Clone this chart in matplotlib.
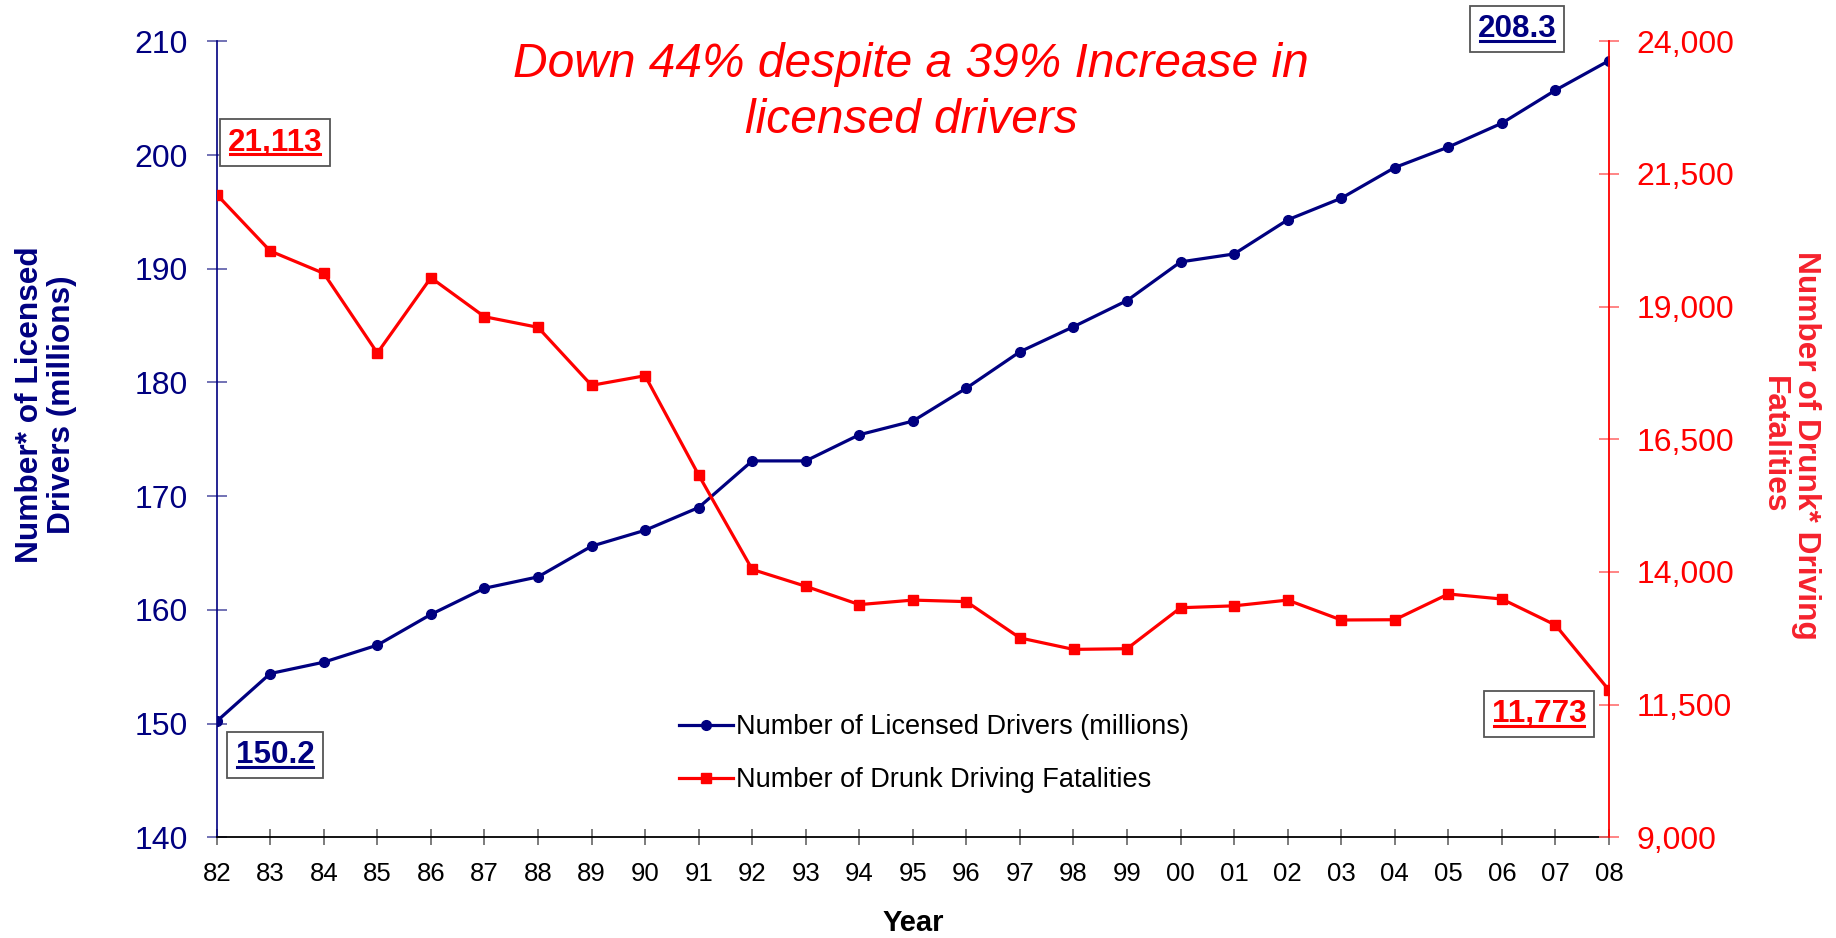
import matplotlib
matplotlib.use('Agg')
import matplotlib.pyplot as plt
from matplotlib.ticker import FuncFormatter
from matplotlib.lines import Line2D

plt.rcParams['font.family'] = ['Liberation Sans', 'DejaVu Sans']

years = ['82', '83', '84', '85', '86', '87', '88', '89', '90', '91', '92', '93', '94',
         '95', '96', '97', '98', '99', '00', '01', '02', '03', '04', '05', '06', '07', '08']
drivers = [150.2, 154.4, 155.4, 156.9, 159.6, 161.9, 162.9, 165.6, 167.0, 169.0, 173.1,
           173.1, 175.4, 176.6, 179.5, 182.7, 184.9, 187.2, 190.6, 191.3, 194.3, 196.2,
           198.9, 200.7, 202.8, 205.7, 208.3]
fatalities = [21113, 20048, 19627, 18126, 19545, 18810, 18610, 17517, 17698, 15827, 14048,
              13730, 13385, 13470, 13441, 12757, 12541, 12554, 13326, 13362, 13470, 13095,
              13100, 13585, 13490, 13000, 11773]
left_ticks = [140, 150, 160, 170, 180, 190, 200, 210]
right_ticks = [9000, 11500, 14000, 16500, 19000, 21500, 24000]

NAVY = '#000080'
RED = '#FF0000'

W, H = 1836, 938
fig = plt.figure(figsize=(W / 100, H / 100), dpi=100)
ax = fig.add_axes([216.7 / W, 1 - 837.3 / H, (1609 - 216.7) / W, (837.3 - 41.3) / H])
ax2 = ax.twinx()

x = list(range(len(years)))
l1, = ax.plot(x, drivers, color=NAVY, lw=2.3, marker='o', ms=7,
              label='Number of Licensed Drivers (millions)')
l2, = ax2.plot(x, fatalities, color=RED, lw=2.3, marker='s', ms=7,
               label='Number of Drunk Driving Fatalities')

ax.set_xlim(0, len(years) - 1)
ax.set_ylim(left_ticks[0], left_ticks[-1])
ax2.set_ylim(right_ticks[0], right_ticks[-1])
ax.set_xticks(x)
ax.set_xticklabels(years)
ax.set_yticks(left_ticks)
ax2.set_yticks(right_ticks)
ax2.yaxis.set_major_formatter(FuncFormatter(lambda v, p: f'{int(v):,}'))

for a in (ax, ax2):
    a.spines['top'].set_visible(False)
ax.spines['right'].set_visible(False)
ax2.spines['left'].set_visible(False)
ax2.spines['bottom'].set_visible(False)
ax.spines['left'].set_color(NAVY)
ax.spines['left'].set_linewidth(1.2)
ax.spines['bottom'].set_color('black')
ax.spines['bottom'].set_linewidth(1.3)
ax2.spines['right'].set_color(RED)
ax2.spines['right'].set_linewidth(1.3)

ax.tick_params(axis='y', direction='inout', length=14, width=1.2, color='#5a5aa8',
               labelcolor=NAVY, labelsize=23, pad=14)
ax.tick_params(axis='x', direction='inout', length=11, width=1.2, color='#666666',
               labelcolor='black', labelsize=18.5, pad=12)
ax2.tick_params(axis='y', direction='inout', length=14, width=1.2, color='#FF7070',
                labelcolor=RED, labelsize=23, pad=13)

fig.text(913 / W, 1 - 923 / H, 'Year', ha='center', va='center', fontsize=21,
         fontweight='bold', color='black')

fig.text(46 / W, 1 - 405 / H, 'Number* of Licensed\nDrivers (millions)', rotation=90,
         ha='center', va='center', multialignment='center', fontsize=22.8,
         fontweight='bold', color=NAVY, linespacing=1.1)
fig.text(1790 / W, 1 - 445 / H, 'Number of Drunk* Driving\nFatalities', rotation=-90,
         ha='center', va='center', multialignment='center', fontsize=22.8,
         fontweight='bold', color='#F5222D', linespacing=1.1)

fig.text(911 / W, 1 - 77 / H, 'Down 44% despite a 39% Increase in', ha='center',
         va='baseline', fontsize=34.5, style='italic', color=RED)
fig.text(911 / W, 1 - 133 / H, 'licensed drivers', ha='center',
         va='baseline', fontsize=34.5, style='italic', color=RED)

fig.legend(handles=[l1, l2], loc='upper left', bbox_to_anchor=(679 / W, 1 - 714 / H),
           frameon=False, fontsize=19.5, handlelength=2.0, handletextpad=0.1,
           borderpad=0, borderaxespad=0, labelspacing=1.0)

boxes = []
def boxed(xc, yc, text, color):
    t = fig.text(xc / W, 1 - yc / H, text, ha='center', va='center', fontsize=22.6,
                 fontweight='bold', color=color, zorder=5,
                 bbox=dict(boxstyle='square,pad=0.26', fc='white', ec='#555555', lw=1.3))
    boxes.append((t, color))

boxed(275, 142.5, '21,113', RED)
boxed(1517, 28.7, '208.3', NAVY)
boxed(275, 755, '150.2', NAVY)
boxed(1539, 714, '11,773', RED)

fig.canvas.draw()
renderer = fig.canvas.get_renderer()
for t, color in boxes:
    bb = t.get_window_extent(renderer)
    yy = bb.y0 + 3.0
    fig.add_artist(Line2D([bb.x0 / W + 0.001, bb.x1 / W - 0.001], [yy / H, yy / H],
                          transform=fig.transFigure, color=color, lw=2.2, zorder=20))

fig.savefig('out.png', dpi=100, facecolor='white')
